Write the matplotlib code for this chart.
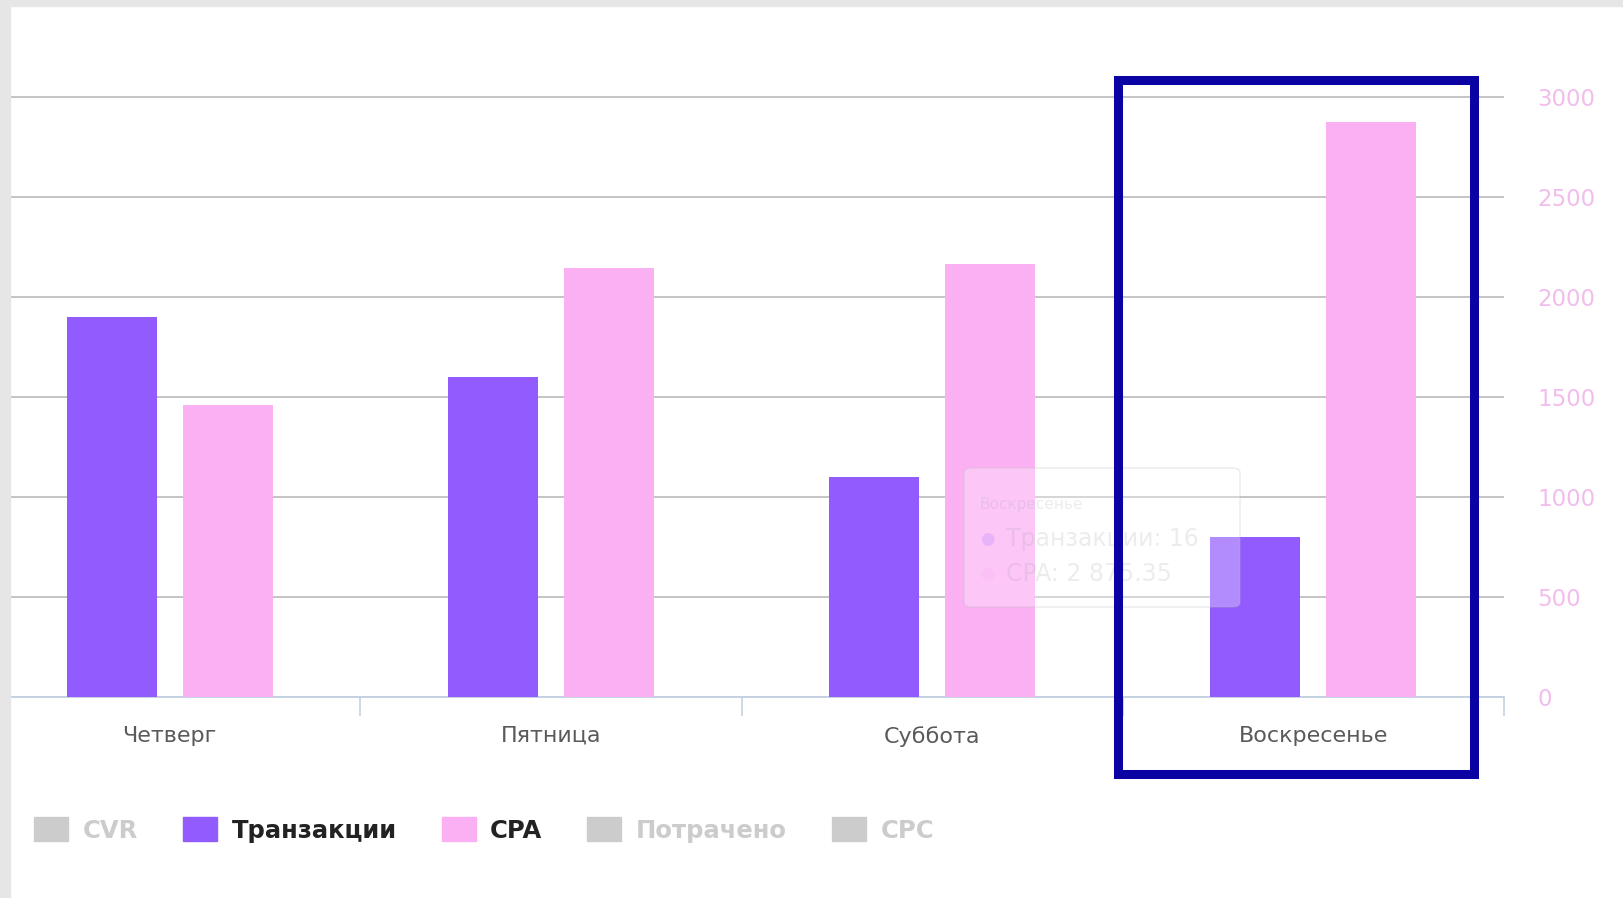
import numpy as np
import matplotlib
matplotlib.use("Agg")
import matplotlib.pyplot as plt
from matplotlib.patches import Patch, Rectangle, FancyBboxPatch

plt.rcParams['font.family'] = ['DejaVu Sans']

# data
days = ['Четверг', 'Пятница', 'Суббота', 'Воскресенье']
transactions = [38, 32, 22, 16]
cpa = [1460, 2143, 2164, 2875.35]
cpa_ticks = [0, 500, 1000, 1500, 2000, 2500, 3000]
legend_labels = ['CVR', 'Транзакции', 'CPA', 'Потрачено', 'CPC']
legend_active = [False, True, True, False, False]
tooltip_lines = ['Воскресенье', 'Транзакции: 16', 'CPA: 2 875.35']

PURPLE = '#925bfd'
PINK = '#fbb0f4'
GRID = '#c4c4c4'
AXIS = '#c4d2e2'
TICK_TXT = '#f2bdec'
OFF = '#cccccc'

W, H = 1623, 898
fig = plt.figure(figsize=(W / 100, H / 100), dpi=100)

# grey page border (left and top)
fig.patches.append(Rectangle((0, 0), 10 / W, 1, transform=fig.transFigure,
                             color='#e6e6e6', zorder=0))
fig.patches.append(Rectangle((0, 1 - 6 / H), 1, 6 / H, transform=fig.transFigure,
                             color='#e6e6e6', zorder=0))

ax = fig.add_axes([10 / W, 1 - 696.7 / H, 1494 / W, 610 / H])
ax.set_xlim(-0.419, 3.5)
ax.set_ylim(0, 3050)

x = np.arange(len(days))
bw = 0.236
ax.bar(x + 0.152, cpa, width=bw, color=PINK, zorder=3)

# transactions on their own (hidden) scale
ax2 = ax.twinx()
ax2.set_ylim(0, 61)
ax2.bar(x - 0.152, transactions, width=bw, color=PURPLE, zorder=3)
ax2.axis('off')

ax.set_yticks(cpa_ticks)
ax.yaxis.tick_right()
ax.set_axisbelow(True)
ax.yaxis.grid(True, color=GRID, lw=1.4)
ax.tick_params(axis='y', length=0, pad=24, labelsize=16.5, labelcolor=TICK_TXT)

ax.set_xticks(x, days)
ax.set_xticks(list(x + 0.5), minor=True)
ax.tick_params(axis='x', which='major', length=0, pad=21, labelsize=16, labelcolor='#5a5a5a')
ax.tick_params(axis='x', which='minor', length=14, width=1.2, color=AXIS, direction='out')

for s in ['left', 'right', 'top']:
    ax.spines[s].set_visible(False)
ax.spines['bottom'].set_color(AXIS)
ax.spines['bottom'].set_linewidth(1.4)

# legend
handles = []
for lab, on in zip(legend_labels, legend_active):
    if lab == 'Транзакции':
        handles.append(Patch(color=PURPLE))
    elif lab == 'CPA':
        handles.append(Patch(color=PINK))
    else:
        handles.append(Patch(color=OFF))
leg = fig.legend(handles, legend_labels, loc='center left',
                 bbox_to_anchor=(34 / W, 1 - 830 / H), ncol=5, frameon=False,
                 prop=dict(weight='bold', size=17.5), handlelength=1.4,
                 handleheight=1.15, handletextpad=0.6, columnspacing=1.85,
                 borderpad=0, borderaxespad=0)
for t, on in zip(leg.get_texts(), legend_active):
    t.set_color('#222222' if on else OFF)

# fading tooltip
fig.patches.append(FancyBboxPatch((964 / W, 1 - 607 / H), 276 / W, 139 / H,
                                  boxstyle='round,pad=0,rounding_size=0.005',
                                  transform=fig.transFigure, facecolor='white',
                                  edgecolor='#bbbbbb', alpha=0.3, lw=1, zorder=5))
fig.text(980 / W, 1 - 504 / H, tooltip_lines[0], fontsize=11, color='#999999',
         alpha=0.18, va='center', zorder=6)
fig.text(980 / W, 1 - 539 / H, '●', fontsize=12, color=PURPLE, alpha=0.18,
         va='center', zorder=6)
fig.text(1006 / W, 1 - 539 / H, tooltip_lines[1], fontsize=17, color='#999999',
         alpha=0.18, va='center', zorder=6)
fig.text(980 / W, 1 - 574 / H, '●', fontsize=12, color=PINK, alpha=0.28,
         va='center', zorder=6)
fig.text(1006 / W, 1 - 574 / H, tooltip_lines[2], fontsize=17, color='#999999',
         alpha=0.18, va='center', zorder=6)

# blue highlight frame round Sunday
fig.patches.append(Rectangle((1118 / W, 1 - 774 / H), 355.5 / W, 694 / H,
                             transform=fig.transFigure, fill=False,
                             edgecolor='#0b02a4', lw=6.5, zorder=7))

fig.savefig('out.png', dpi=100)
